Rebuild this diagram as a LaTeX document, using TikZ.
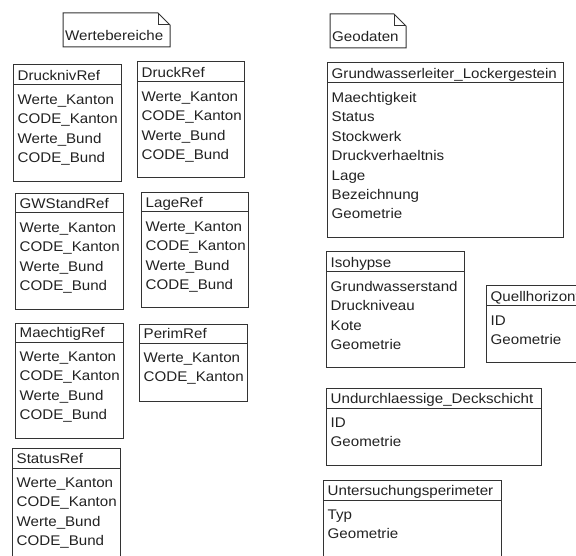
\documentclass[tikz,border=0pt]{standalone}
\usepackage{fontspec}
\setmainfont{Liberation Sans}[FakeStretch=1.08]
\definecolor{ink}{HTML}{222222}
\definecolor{edge}{HTML}{333333}
\tikzset{
  boxshape/.style={draw=edge, line width=1pt, rectangle, inner sep=0pt, outer sep=0pt},
  boxline/.style={draw=edge, line width=1pt},
  lbl/.style={anchor=base west, inner sep=0pt, text=ink, font=\fontsize{14}{16}\selectfont},
}
\newcommand\umlclass[8]{%
  \node[boxshape, minimum width={#4-#2}, minimum height={#6-#3}, anchor=north west] (#1) at (#2,#3) {};
  \draw[boxline] (#2,#5) -- (#4,#5);
  \node[lbl] (#1-t) at ({#2+4.5},{#5-4.5}) {#7};
  \foreach \a [count=\i] in {#8} {\node[lbl] (#1-\i) at ({#2+4.5},{#5+19.5+(\i-1)*19.4}) {\a};}
}
\newcommand\umlnote[6]{% name, left, top, right, bottom, text
  \draw[boxline] (#2,#3) -- ({#4-12},#3) -- (#4,{#3+12}) -- (#4,#5) -- (#2,#5) -- cycle;
  \draw[boxline] ({#4-12},#3) -- ({#4-12},{#3+12}) -- (#4,{#3+12});
  \node[lbl] (#1) at ({#2+2},{#5-6}) {#6};
}
\begin{document}
\begin{tikzpicture}[x=1pt,y=-1pt]
\useasboundingbox[fill=white] (0,0) rectangle (576,556);
\clip (0,0) rectangle (576,556);
\umlnote{wb}{63}{13}{170}{47}{Wertebereiche}
\umlnote{geo}{330}{14}{406}{48}{Geodaten}
\umlclass{dn}{13}{65}{121}{85}{182}{DrucknivRef}{Werte\_Kanton,CODE\_Kanton,Werte\_Bund,CODE\_Bund}
\umlclass{dr}{137}{62}{244}{82}{178}{DruckRef}{Werte\_Kanton,CODE\_Kanton,Werte\_Bund,CODE\_Bund}
\umlclass{gw}{15}{194}{123}{213}{310}{GWStandRef}{Werte\_Kanton,CODE\_Kanton,Werte\_Bund,CODE\_Bund}
\umlclass{lr}{141}{193}{248}{212}{308}{LageRef}{Werte\_Kanton,CODE\_Kanton,Werte\_Bund,CODE\_Bund}
\umlclass{mr}{15}{323}{123}{342}{438}{MaechtigRef}{Werte\_Kanton,CODE\_Kanton,Werte\_Bund,CODE\_Bund}
\umlclass{pr}{139}{324}{247}{343}{401}{PerimRef}{Werte\_Kanton,CODE\_Kanton}
\umlclass{sr}{12}{448}{120}{468}{575}{StatusRef}{Werte\_Kanton,CODE\_Kanton,Werte\_Bund,CODE\_Bund}
\umlclass{gl}{327}{63}{563}{83}{238}{Grundwasserleiter\_Lockergestein}{Maechtigkeit,Status,Stockwerk,Druckverhaeltnis,Lage,Bezeichnung,Geometrie}
\umlclass{iso}{326}{252}{464}{272}{367}{Isohypse}{Grundwasserstand,Druckniveau,Kote,Geometrie}
\umlclass{qh}{486}{286}{600}{306}{362}{Quellhorizont}{ID,Geometrie}
\umlclass{ud}{326}{388}{541}{408}{465}{Undurchlaessige\_Deckschicht}{ID,Geometrie}
\umlclass{up}{323}{480}{501}{500}{575}{Untersuchungsperimeter}{Typ,Geometrie}
\end{tikzpicture}
\end{document}
